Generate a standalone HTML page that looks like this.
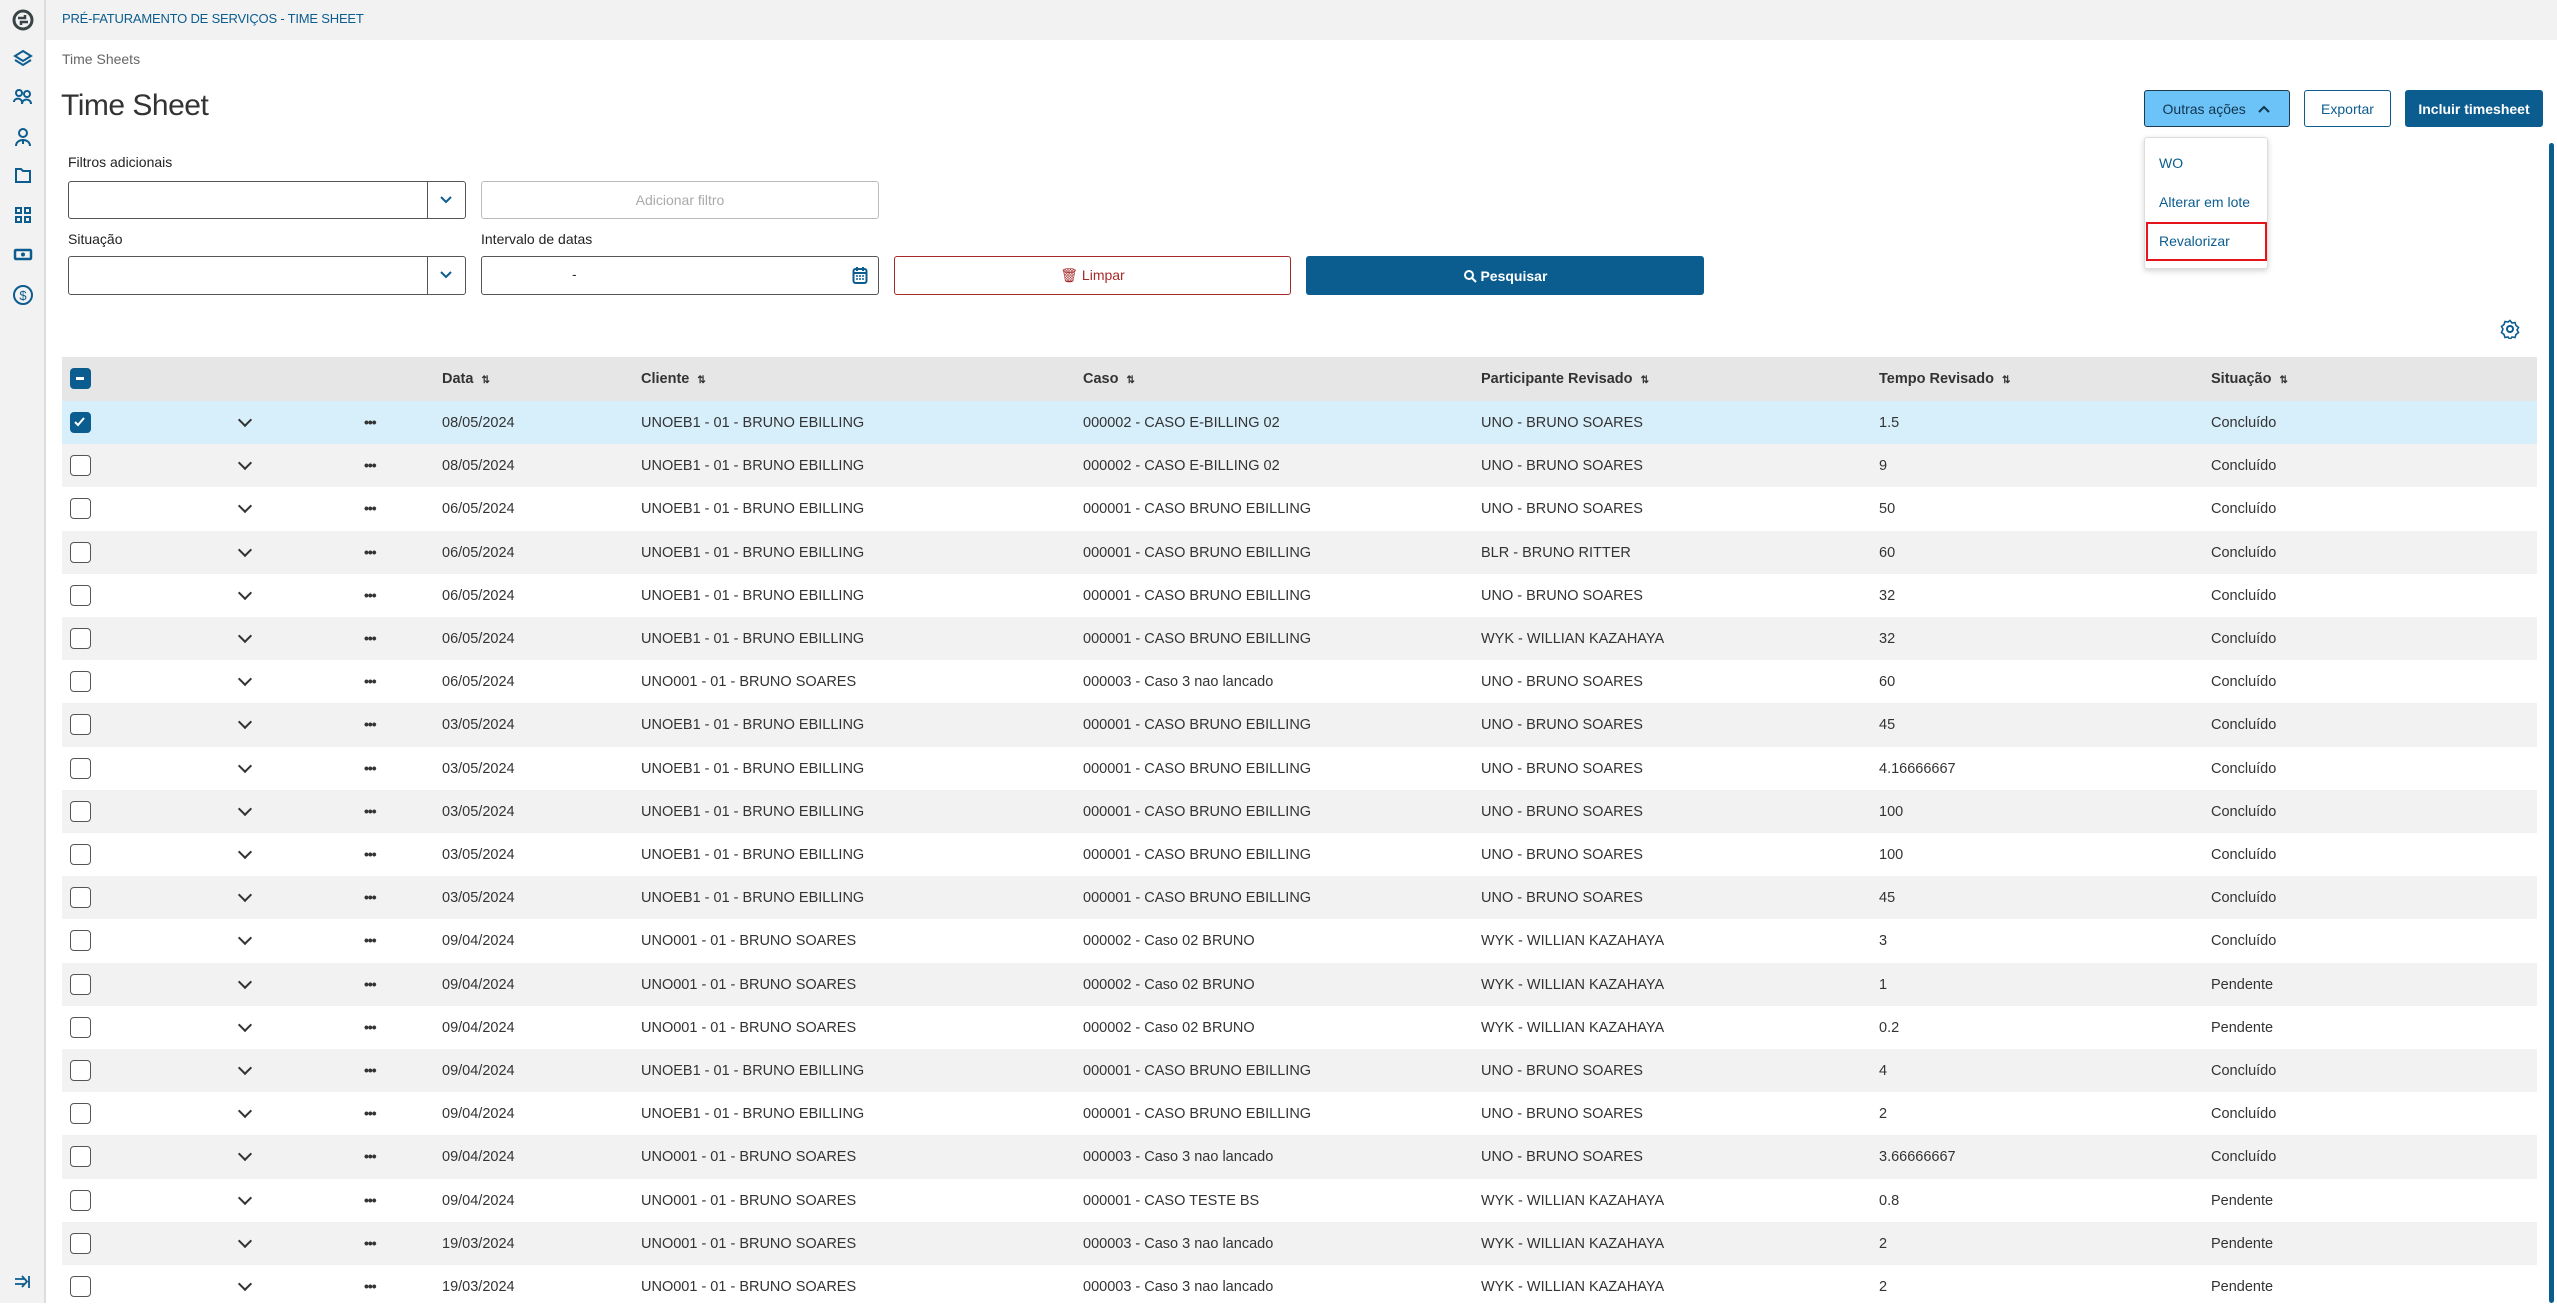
<!DOCTYPE html>
<html><head><meta charset="utf-8">
<style>
*{margin:0;padding:0;box-sizing:border-box}
body{width:2557px;height:1303px;overflow:hidden;background:#fff;font-family:"Liberation Sans",sans-serif;color:#333;position:relative}
.a{position:absolute}
#side{left:0;top:0;width:46px;height:1303px;background:#f2f2f2;border-right:2px solid #ddd}
#top{left:46px;top:0;width:2511px;height:40px;background:#f2f2f2}
.ic{position:absolute;left:13px;width:20px;height:20px}
.lbl{font-size:14px;color:#222}
.box{border:1.5px solid #555;border-radius:3px;background:#fff}
.row{position:absolute;left:62px;width:2475px;height:43.2px;font-size:14.5px;color:#333}
.row span{position:absolute;top:14px;white-space:nowrap}
.c1{left:442px-62px}
.cb{position:absolute;left:8px;top:11px;width:21px;height:21px;border:1.5px solid #555;border-radius:4px;background:#fff}
.chev{position:absolute;left:178px;top:14px;width:10px;height:10px;border-right:2px solid #333;border-bottom:2px solid #333;transform:rotate(45deg)}
.dots{position:absolute;left:302px;top:13px;font-size:14px;font-weight:bold;letter-spacing:-1px}
.hd{font-weight:bold}
.btn{position:absolute;border-radius:3px;font-size:14px;display:flex;align-items:center;justify-content:center}
</style></head><body>
<div id="side" class="a">
<svg class="ic" style="top:9px;left:12px;width:22px;height:22px" viewBox="0 0 22 22"><circle cx="11" cy="11" r="9" fill="none" stroke="#3a4446" stroke-width="3"/><path d="M6 9h7v-3M16 13h-7v3" stroke="#3a4446" stroke-width="2.5" fill="none"/></svg>
<svg class="ic" style="top:48px" viewBox="0 0 20 20"><path d="M10 3l8 5-8 5-8-5z M2 12l8 5 8-5" fill="none" stroke="#0c5d8f" stroke-width="2"/></svg>
<svg class="ic" style="top:87px" viewBox="0 0 20 20"><circle cx="6" cy="6" r="3" fill="none" stroke="#0c5d8f" stroke-width="2"/><circle cx="14" cy="7" r="3" fill="none" stroke="#0c5d8f" stroke-width="2"/><path d="M1 15c0-4 7-5 8 0M9 17c0-6 9-6 9 0" fill="none" stroke="#0c5d8f" stroke-width="2"/></svg>
<svg class="ic" style="top:127px" viewBox="0 0 20 20"><circle cx="10" cy="6" r="4" fill="none" stroke="#0c5d8f" stroke-width="2"/><path d="M3 19c0-8 14-8 14 0M10 12v5" fill="none" stroke="#0c5d8f" stroke-width="2"/></svg>
<svg class="ic" style="top:165px" viewBox="0 0 20 20"><path d="M3 4h5l2 2h7v11H3z" fill="none" stroke="#0c5d8f" stroke-width="2"/></svg>
<svg class="ic" style="top:205px" viewBox="0 0 20 20"><rect x="3" y="3" width="5" height="5" fill="none" stroke="#0c5d8f" stroke-width="2"/><rect x="12" y="3" width="5" height="5" fill="none" stroke="#0c5d8f" stroke-width="2"/><rect x="3" y="12" width="5" height="5" fill="none" stroke="#0c5d8f" stroke-width="2"/><rect x="12" y="12" width="5" height="5" fill="none" stroke="#0c5d8f" stroke-width="2"/></svg>
<svg class="ic" style="top:244px" viewBox="0 0 20 20"><rect x="2" y="6" width="16" height="9" rx="1" fill="none" stroke="#0c5d8f" stroke-width="2.5"/><circle cx="10" cy="10.5" r="2" fill="#0c5d8f"/></svg>
<svg class="ic" style="top:284px;width:22px;height:22px;left:12px" viewBox="0 0 22 22"><circle cx="11" cy="11" r="9" fill="none" stroke="#0c5d8f" stroke-width="2"/><text x="11" y="16" font-size="13" text-anchor="middle" fill="#0c5d8f" font-family="Liberation Sans">$</text></svg>
<svg class="ic" style="top:1272px" viewBox="0 0 20 20"><path d="M2 7h10M2 12h10M9 4l5 5.5-5 5.5M16 4v12" fill="none" stroke="#0c5d8f" stroke-width="1.8"/></svg>
</div>
<div id="top" class="a"></div>
<div class="a" style="left:62px;top:11px;font-size:13px;color:#0c5d8f;letter-spacing:-0.2px">PRÉ-FATURAMENTO DE SERVIÇOS - TIME SHEET</div>
<div class="a" style="left:62px;top:51px;font-size:14px;color:#666">Time Sheets</div>
<div class="a" style="left:61px;top:89px;font-size:30px;color:#333;letter-spacing:-0.5px">Time Sheet</div>

<div class="btn" style="left:2144px;top:90px;width:146px;height:37px;background:#6cc3f8;border:1.5px solid #1d3a4f;color:#12344d">Outras ações&nbsp;&nbsp;&nbsp;<svg width="14" height="10" viewBox="0 0 14 10"><path d="M2 8l5-5 5 5" fill="none" stroke="#12344d" stroke-width="2"/></svg></div>
<div class="btn" style="left:2304px;top:90px;width:87px;height:37px;border:1.5px solid #0c5d8f;color:#0c5d8f">Exportar</div>
<div class="btn" style="left:2405px;top:90px;width:138px;height:37px;background:#0c5d8f;color:#fff;font-weight:bold">Incluir timesheet</div>

<div class="a" style="left:2144px;top:137px;width:124px;height:132px;background:#fff;border:1px solid #ddd;border-radius:3px;box-shadow:0 2px 6px rgba(0,0,0,.18)"></div>
<div class="a" style="left:2159px;top:155px;font-size:14px;color:#0c5d8f">WO</div>
<div class="a" style="left:2159px;top:194px;font-size:14px;color:#0c5d8f">Alterar em lote</div>
<div class="a" style="left:2146px;top:222px;width:121px;height:39px;border:2px solid #e8141b"></div>
<div class="a" style="left:2159px;top:233px;font-size:14px;color:#0c5d8f">Revalorizar</div>

<div class="a lbl" style="left:68px;top:154px">Filtros adicionais</div>
<div class="a box" style="left:68px;top:181px;width:398px;height:38px"></div>
<div class="a" style="left:427px;top:182px;width:1px;height:36px;background:#555"></div>
<svg class="a" style="left:439px;top:195px" width="14" height="10" viewBox="0 0 14 10"><path d="M2 2l5 5 5-5" fill="none" stroke="#0c5d8f" stroke-width="2"/></svg>
<div class="btn" style="left:481px;top:181px;width:398px;height:38px;border:1.5px solid #bbb;color:#aaa">Adicionar filtro</div>

<div class="a lbl" style="left:68px;top:231px">Situação</div>
<div class="a lbl" style="left:481px;top:231px">Intervalo de datas</div>
<div class="a box" style="left:68px;top:256px;width:398px;height:39px"></div>
<div class="a" style="left:427px;top:257px;width:1px;height:37px;background:#555"></div>
<svg class="a" style="left:439px;top:270px" width="14" height="10" viewBox="0 0 14 10"><path d="M2 2l5 5 5-5" fill="none" stroke="#0c5d8f" stroke-width="2"/></svg>
<div class="a box" style="left:481px;top:256px;width:398px;height:39px"></div>
<div class="a" style="left:572px;top:266px;font-size:14px">-</div>
<svg class="a" style="left:852px;top:266px" width="16" height="19" viewBox="0 0 16 19"><rect x="1.5" y="3" width="13" height="14" rx="2" fill="none" stroke="#0c5d8f" stroke-width="2"/><path d="M1.5 7h13M5 1v4M11 1v4" stroke="#0c5d8f" stroke-width="2"/><path d="M4 10h2M7 10h2M10 10h2M4 13h2M7 13h2M10 13h2" stroke="#0c5d8f" stroke-width="1.5"/></svg>
<div class="btn" style="left:894px;top:256px;width:397px;height:39px;border:1.5px solid #a62a2a;color:#a62a2a">&#128465;&#xFE0E;&nbsp;Limpar</div>
<div class="btn" style="left:1306px;top:256px;width:398px;height:39px;background:#0c5d8f;color:#fff;font-weight:bold"><svg width="14" height="14" viewBox="0 0 14 14"><circle cx="6" cy="6" r="4" fill="none" stroke="#fff" stroke-width="2"/><path d="M9 9l4 4" stroke="#fff" stroke-width="2"/></svg>&nbsp;Pesquisar</div>

<svg class="a" style="left:2500px;top:319px" width="20" height="20" viewBox="0 0 20 20"><circle cx="10" cy="10" r="3" fill="none" stroke="#0c5d8f" stroke-width="2"/><path d="M10 1.5l2 2.5 3-.5 1 3 2.5 2-1.5 2.5 1.5 2.5-2.5 2-1 3-3-.5-2 2.5-2-2.5-3 .5-1-3-2.5-2L3 10 1.5 7.5l2.5-2 1-3 3 .5z" fill="none" stroke="#0c5d8f" stroke-width="1.6"/></svg>

<div class="a" style="left:2549px;top:143px;width:5px;height:1160px;background:#0c5d8f;border-radius:3px"></div>

<div class="a" style="left:62px;top:357px;width:2475px;height:946px;border:1.5px solid #ccc;border-bottom:none"></div>
<div class="row hd" style="top:357px;height:44px;background:#e6e6e6">
<div class="cb" style="background:#0c5d8f;border-color:#0c5d8f"><div style="position:absolute;left:5px;top:8px;width:8px;height:2.5px;background:#fff"></div></div>
<span style="left:380px">Data &nbsp;<small style="font-size:10px">⇅</small></span>
<span style="left:579px">Cliente &nbsp;<small style="font-size:10px">⇅</small></span>
<span style="left:1021px">Caso &nbsp;<small style="font-size:10px">⇅</small></span>
<span style="left:1419px">Participante Revisado &nbsp;<small style="font-size:10px">⇅</small></span>
<span style="left:1817px">Tempo Revisado &nbsp;<small style="font-size:10px">⇅</small></span>
<span style="left:2149px">Situação &nbsp;<small style="font-size:10px">⇅</small></span>
</div>

<div id="rows"></div>
<script>
var E="UNOEB1 - 01 - BRUNO EBILLING",S="UNO001 - 01 - BRUNO SOARES",B="000001 - CASO BRUNO EBILLING",C3="000003 - Caso 3 nao lancado",C2="000002 - Caso 02 BRUNO",EB="000002 - CASO E-BILLING 02",U="UNO - BRUNO SOARES",W="WYK - WILLIAN KAZAHAYA",K="Concluído",P="Pendente";
var d=[["08/05/2024",E,EB,U,"1.5",K],["08/05/2024",E,EB,U,"9",K],["06/05/2024",E,B,U,"50",K],["06/05/2024",E,B,"BLR - BRUNO RITTER","60",K],["06/05/2024",E,B,U,"32",K],["06/05/2024",E,B,W,"32",K],["06/05/2024",S,C3,U,"60",K],["03/05/2024",E,B,U,"45",K],["03/05/2024",E,B,U,"4.16666667",K],["03/05/2024",E,B,U,"100",K],["03/05/2024",E,B,U,"100",K],["03/05/2024",E,B,U,"45",K],["09/04/2024",S,C2,W,"3",K],["09/04/2024",S,C2,W,"1",P],["09/04/2024",S,C2,W,"0.2",P],["09/04/2024",E,B,U,"4",K],["09/04/2024",E,B,U,"2",K],["09/04/2024",S,C3,U,"3.66666667",K],["09/04/2024",S,"000001 - CASO TESTE BS",W,"0.8",P],["19/03/2024",S,C3,W,"2",P],["19/03/2024",S,C3,W,"2",P]];
var L=[380,579,1021,1419,1817,2149],h="";
d.forEach(function(r,i){var bg=i==0?"#d7eefb":(i%2?"#f2f2f2":"#fff");
h+='<div class="row" style="top:'+(401+i*43.2)+'px;background:'+bg+'">';
h+=i==0?'<div class="cb" style="background:#0c5d8f;border-color:#0c5d8f"><svg width="18" height="18" viewBox="0 0 18 18" style="position:absolute;left:0;top:0"><path d="M4 9l3 3 6-7" fill="none" stroke="#fff" stroke-width="2"/></svg></div>':'<div class="cb"></div>';
h+='<div class="chev"></div><div class="dots">•••</div>';
r.forEach(function(t,j){h+='<span style="left:'+L[j]+'px">'+t+'</span>';});
h+='</div>';});
document.getElementById("rows").innerHTML=h;
</script>
</body></html>
